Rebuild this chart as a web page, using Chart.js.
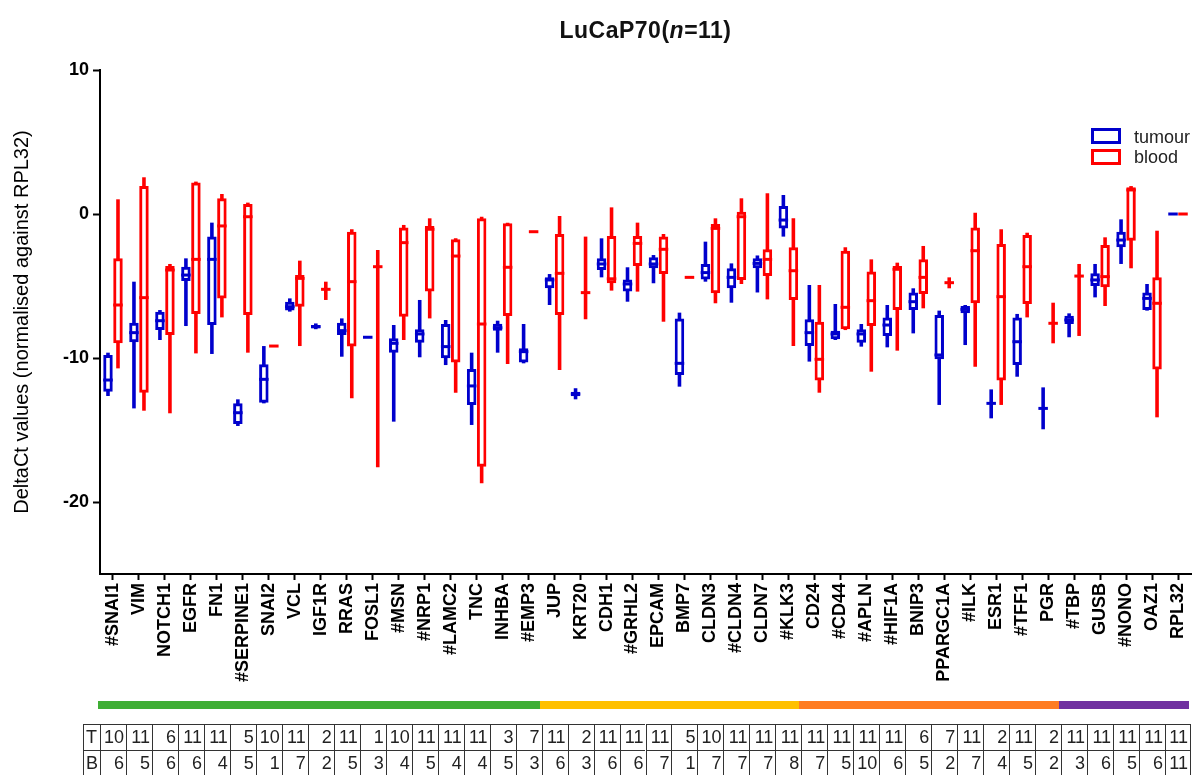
<!DOCTYPE html>
<html><head><meta charset="utf-8">
<script src="https://cdn.jsdelivr.net/npm/chart.js@4.4.1/dist/chart.umd.min.js"></script>
<style>
html,body{margin:0;padding:0;background:#fff;overflow:hidden;}
#wrap{position:relative;width:1203px;height:776px;overflow:hidden;}
#c{position:absolute;left:0;top:0;}
#title{position:absolute;top:17px;left:100px;width:1091px;text-align:center;font:bold 23px "Liberation Sans",Arial,sans-serif;color:#111;letter-spacing:0.5px;}
.leg-box{position:absolute;left:1091px;width:30px;height:16px;box-sizing:border-box;border:3px solid;}
.leg-txt{position:absolute;left:1134px;font:18px "Liberation Sans",Arial,sans-serif;color:#222;line-height:20px;}
.grp{position:absolute;top:701px;height:8px;}
.cell{position:absolute;box-sizing:border-box;border-left:1.5px solid #333;border-top:1.5px solid #333;font:18px "Liberation Sans Narrow","Liberation Sans",Arial,sans-serif;color:#222;text-align:right;padding-right:2px;line-height:24px;white-space:nowrap;overflow:hidden;}
.cell.hdr{text-align:left;padding-left:2px;padding-right:0;}
</style>
</head><body>
<div id="wrap">
<canvas id="c" width="1203" height="776"></canvas>
<div id="title">LuCaP70(<i>n</i>=11)</div>
<div class="leg-box" style="top:128px;border-color:#0000cc"></div>
<div class="leg-txt" style="top:127px">tumour</div>
<div class="leg-box" style="top:149px;border-color:#ff0000"></div>
<div class="leg-txt" style="top:147px">blood</div>
</div>
<script>
const categories = ['#SNAI1','VIM','NOTCH1','EGFR','FN1','#SERPINE1','SNAI2','VCL','IGF1R','RRAS','FOSL1','#MSN','#NRP1','#LAMC2','TNC','INHBA','#EMP3','JUP','KRT20','CDH1','#GRHL2','EPCAM','BMP7','CLDN3','#CLDN4','CLDN7','#KLK3','CD24','#CD44','#APLN','#HIF1A','BNIP3','PPARGC1A','#ILK','ESR1','#TFF1','PGR','#TBP','GUSB','#NONO','OAZ1','RPL32'];

// tumour (blue)
const tumourMin    = [-12.64,-13.5,-8.75,-7.78,-9.72,-14.72,-13.15,-6.78,-8.0,-9.91,-8.56,-14.42,-9.95,-10.49,-14.65,-9.63,-10.37,-6.32,-12.87,-4.40,-6.09,-4.81,-11.99,-4.70,-6.16,-5.45,-1.57,-10.25,-8.75,-9.21,-9.26,-8.29,-13.26,-9.10,-14.19,-11.30,-14.95,-8.56,-5.79,-3.47,-6.71,0];
const tumourQ1     = [-12.34,-8.91,-8.06,-4.65,-7.71,-14.58,-13.10,-6.71,-7.95,-8.40,-8.56,-9.63,-8.94,-10.02,-13.26,-8.10,-10.32,-5.16,-12.65,-3.89,-5.39,-3.77,-11.18,-4.54,-5.16,-3.77,-1.0,-9.17,-8.70,-8.94,-8.47,-6.67,-10.09,-6.90,-13.15,-10.49,-13.5,-7.64,-5.0,-2.31,-6.67,0];
const tumourMedian = [-11.53,-8.24,-7.41,-4.24,-3.15,-13.80,-11.48,-6.44,-7.82,-8.10,-8.56,-8.98,-8.33,-9.21,-11.94,-7.90,-9.56,-4.58,-12.5,-3.47,-4.86,-3.47,-10.37,-4.07,-4.40,-3.43,-0.42,-8.24,-8.33,-8.33,-7.71,-6.09,-9.79,-6.62,-13.15,-8.87,-13.5,-7.36,-4.58,-1.81,-5.86,0];
const tumourQ3     = [-9.79,-7.55,-6.78,-3.66,-1.57,-13.15,-10.44,-6.09,-7.7,-7.55,-8.56,-8.63,-8.01,-7.64,-10.76,-7.62,-9.33,-4.40,-12.35,-3.08,-4.54,-3.01,-7.25,-3.47,-3.77,-3.08,0.56,-7.31,-8.10,-8.01,-7.18,-5.46,-7.01,-6.39,-13.15,-7.18,-13.5,-7.06,-4.12,-1.23,-5.46,0];
const tumourMax    = [-9.63,-4.70,-6.67,-3.08,-0.60,-12.87,-9.17,-5.86,-7.6,-7.25,-8.56,-7.71,-5.97,-7.36,-9.63,-7.41,-7.64,-4.17,-12.1,-1.69,-3.70,-2.85,-6.85,-1.92,-3.43,-2.88,1.32,-4.93,-6.25,-7.64,-6.32,-5.16,-6.71,-6.32,-12.18,-6.94,-12.04,-6.90,-3.47,-0.37,-4.86,0];

// blood (red)
const bloodMin    = [-10.72,-13.66,-13.84,-9.68,-7.18,-9.63,-9.17,-9.17,-5.97,-12.80,-17.59,-8.75,-7.25,-12.41,-18.70,-10.42,-1.23,-10.83,-7.31,-5.32,-5.39,-7.48,-4.40,-6.20,-4.86,-5.93,-9.17,-12.41,-8.06,-10.95,-9.49,-6.55,-5.16,-10.6,-13.26,-7.18,-8.98,-8.47,-6.39,-3.77,-14.12,0];
const bloodQ1     = [-8.98,-12.41,-8.40,-6.94,-5.86,-7.01,-9.17,-6.44,-5.23,-9.21,-3.66,-7.13,-5.39,-10.32,-17.55,-7.08,-1.23,-7.01,-5.46,-4.81,-3.61,-4.17,-4.40,-5.51,-4.58,-4.31,-5.97,-11.57,-8.01,-7.78,-6.67,-5.56,-4.77,-6.20,-11.57,-6.25,-7.59,-4.31,-5.09,-1.85,-10.79,0];
const bloodMedian = [-6.32,-5.81,-3.89,-3.15,-0.83,-0.19,-9.17,-4.47,-5.23,-4.70,-3.66,-1.99,-1.06,-2.92,-7.64,-3.70,-1.23,-4.12,-5.46,-4.50,-2.04,-2.45,-4.40,-1.0,-0.19,-3.15,-3.94,-10.09,-6.48,-6.02,-3.84,-4.40,-4.77,-2.55,-5.74,-3.66,-7.59,-4.31,-4.35,1.67,-6.20,0];
const bloodQ3     = [-3.08,1.94,-3.61,2.18,1.09,0.69,-9.17,-4.24,-5.23,-1.23,-3.66,-0.93,-0.83,-1.76,-0.30,-0.65,-1.23,-1.39,-5.46,-1.53,-1.53,-1.57,-4.40,-0.69,0.16,-2.45,-2.31,-7.48,-2.55,-4.0,-3.61,-3.15,-4.77,-0.93,-2.08,-1.46,-7.59,-4.31,-2.15,1.85,-4.40,0];
const bloodMax    = [1.02,2.55,-3.47,2.25,1.39,0.79,-9.17,-3.24,-4.70,-1.06,-2.5,-0.76,-0.30,-1.69,-0.19,-0.60,-1.23,-0.14,-1.57,0.46,-0.60,-1.39,-4.40,-0.30,1.09,1.44,-0.30,-4.93,-2.31,-3.15,-3.38,-2.22,-4.40,0.09,-1.06,-1.30,-6.16,-3.47,-1.62,1.94,-1.16,0];

// sample counts (table)
const tumourN = [10,11,6,11,11,5,10,11,2,11,1,10,11,11,11,3,7,11,2,11,11,11,5,10,11,11,11,11,11,11,11,6,7,11,2,11,2,11,11,11,11,11];
const bloodN  = [6,5,6,6,4,5,1,7,2,5,3,4,5,4,4,5,3,6,3,6,6,7,1,7,7,7,8,7,5,10,6,5,2,7,4,5,2,3,6,5,6,11];

// category groups (colour bar)
const groupSizes  = [17,10,10,5];
const groupColors = ['#3fae35','#ffc000','#ff7c22','#7030a0'];

const BLUE = '#0000cc', RED = '#ff0000';
const yTicks = [10,0,-10,-20];

const pair = (a,b) => a.map((v,i)=>[v,b[i]]);
const CP = 0.77;

const medianPlugin = {
  id:'medianLines',
  afterDatasetsDraw(chart){
    const ctx = chart.ctx, ys = chart.scales.y;
    chart.data.datasets.forEach((ds,di)=>{
      if(!ds.medians) return;
      const meta = chart.getDatasetMeta(di);
      ctx.save();
      ctx.strokeStyle = ds.borderColor;
      ctx.lineWidth = 3;
      meta.data.forEach((el,i)=>{
        const py = ys.getPixelForValue(ds.medians[i]);
        ctx.beginPath();
        ctx.moveTo(el.x - el.width/2, py);
        ctx.lineTo(el.x + el.width/2, py);
        ctx.stroke();
      });
      ctx.restore();
    });
  }
};

const chart = new Chart(document.getElementById('c'), {
  type:'bar',
  data:{
    labels:categories,
    datasets:[
      {label:'tumour whisker', data:pair(tumourMin,tumourMax), backgroundColor:BLUE, borderWidth:0, stack:'tumour', order:2, barPercentage:0.36, categoryPercentage:CP},
      {label:'tumour', data:pair(tumourQ1,tumourQ3), backgroundColor:'#ffffff', borderColor:BLUE, borderWidth:3, borderSkipped:false, stack:'tumour', order:1, barPercentage:0.95, categoryPercentage:CP, medians:tumourMedian},
      {label:'blood whisker', data:pair(bloodMin,bloodMax), backgroundColor:RED, borderWidth:0, stack:'blood', order:2, barPercentage:0.36, categoryPercentage:CP},
      {label:'blood', data:pair(bloodQ1,bloodQ3), backgroundColor:'#ffffff', borderColor:RED, borderWidth:3, borderSkipped:false, stack:'blood', order:1, barPercentage:0.95, categoryPercentage:CP, medians:bloodMedian}
    ]
  },
  options:{
    responsive:false,
    animation:false,
    devicePixelRatio:1,
    layout:{padding:{top:70,right:12,bottom:82,left:0}},
    plugins:{legend:{display:false}, tooltip:{enabled:false}, title:{display:false}},
    scales:{
      x:{
        offset:true,
        grid:{display:true, drawOnChartArea:false, drawTicks:true, tickLength:6, tickWidth:2, tickColor:'#000', offset:false},
        border:{display:true, color:'#000', width:2},
        ticks:{autoSkip:false, minRotation:90, maxRotation:90, padding:3, color:'#000', font:{family:'"Liberation Sans", Arial, sans-serif', weight:'bold', size:18}},
        afterFit:(s)=>{ s.height = 120; }
      },
      y:{
        stacked:false,
        min:-25, max:10,
        grid:{display:true, drawOnChartArea:false, drawTicks:true, tickLength:7, tickWidth:2, tickColor:'#000'},
        border:{display:true, color:'#000', width:2},
        afterBuildTicks:(s)=>{ s.ticks = yTicks.map(v=>({value:v})); },
        ticks:{padding:4, color:'#000', font:{family:'"Liberation Sans", Arial, sans-serif', weight:'bold', size:18}},
        title:{display:true, text:'DeltaCt values (normalised against RPL32)', color:'#000', font:{family:'"Liberation Sans", Arial, sans-serif', size:20}, padding:{top:10,bottom:0}},
        afterFit:(s)=>{ s.width = 100; }
      }
    }
  },
  plugins:[medianPlugin]
});

// colour bar and count table, placed with the chart's x scale
(function(){
  const wrap = document.getElementById('wrap');
  const xs = chart.scales.x;
  const n = categories.length;
  const w = (xs.right - xs.left)/n;
  const edge = k => xs.left + k*w;
  let start = 0;
  groupSizes.forEach((g,gi)=>{
    const d = document.createElement('div');
    d.className='grp';
    d.style.left = (edge(start)-2)+'px';
    d.style.width = (g*w + (gi===groupSizes.length-1?0:2))+'px';
    d.style.background = groupColors[gi];
    wrap.appendChild(d);
    start += g;
  });
  const top0 = 724, rh = 25.5, tLeft = 83;
  const rows = [['T',tumourN],['B',bloodN]];
  rows.forEach((r,ri)=>{
    const top = top0 + ri*rh;
    const h = document.createElement('div');
    h.className='cell hdr';
    h.style.left = tLeft+'px'; h.style.top = top+'px';
    h.style.width = (edge(0)-tLeft)+'px'; h.style.height = rh+'px';
    h.textContent = r[0];
    wrap.appendChild(h);
    r[1].forEach((v,i)=>{
      const c = document.createElement('div');
      c.className='cell';
      c.style.left = edge(i)+'px'; c.style.top = top+'px';
      c.style.width = w+'px'; c.style.height = rh+'px';
      if(i===n-1) c.style.borderRight='1.5px solid #333';
      c.textContent = v;
      wrap.appendChild(c);
    });
  });
})();
</script>
</body></html>
